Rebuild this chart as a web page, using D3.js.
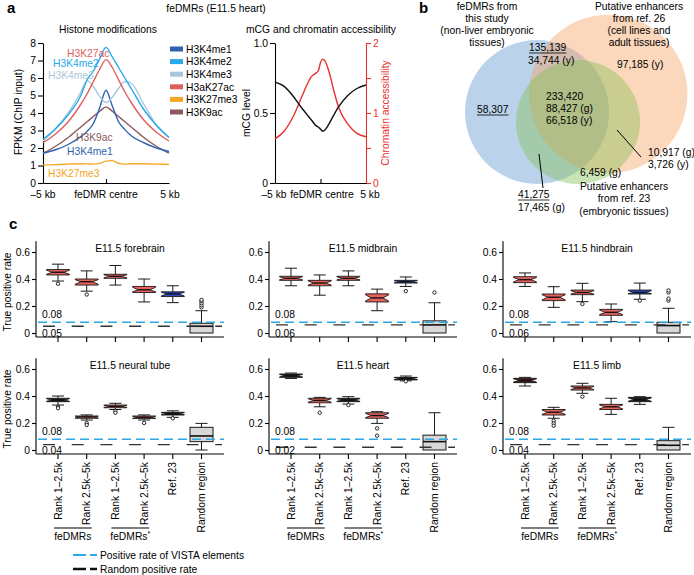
<!DOCTYPE html>
<html>
<head>
<meta charset="utf-8">
<script src="https://cdn.jsdelivr.net/npm/d3@7"></script>
<style>
body{margin:0;background:#fff}
svg{display:block}
</style>
</head>
<body>
<div id="chart"></div>
<script>
// ---- panel a: histone profiles around feDMR centre (kb) ----
const kb=[-5,-4,-3,-2,-1.5,-1,-0.5,0,0.5,1,1.5,2,3,4,5];
const histNames=["H3K4me1","H3K4me2","H3K4me3","H3aK27ac","H3K27me3","H3K9ac"];
const h3k4me1 =[1.70,1.90,2.20,2.65,2.95,3.40,4.30,5.30,4.40,3.50,3.05,2.70,2.30,2.00,1.80];
const h3k4me2 =[2.50,3.10,3.90,5.00,5.90,6.40,7.10,7.75,7.20,6.60,6.00,5.40,4.20,3.30,2.60];
const h3k4me3 =[2.40,3.10,4.00,5.20,5.85,5.50,4.95,4.60,4.90,5.40,5.80,5.70,4.50,3.30,2.60];
const h3ak27ac=[2.30,2.80,3.50,4.50,5.10,5.80,6.50,7.05,6.60,5.90,5.20,4.60,3.60,2.90,2.40];
const h3k27me3=[1.02,1.05,1.08,1.10,1.09,1.08,1.12,1.25,1.28,1.12,1.08,1.10,1.10,1.08,1.06];
const h3k9ac  =[1.70,2.10,2.60,3.20,3.50,3.80,4.10,4.35,4.10,3.80,3.50,3.20,2.60,2.10,1.70];
const histSeries=[h3k4me1,h3k4me2,h3k4me3,h3ak27ac,h3k27me3,h3k9ac];

// ---- panel a: mCG and chromatin accessibility ----
const kbFine=[-5,-4,-3,-2,-1.5,-1,-0.5,-0.25,0,0.25,0.5,1,1.5,2,3,4,5];
const mcgLevel=[0.72,0.69,0.62,0.53,0.49,0.45,0.41,0.40,0.385,0.37,0.38,0.43,0.49,0.545,0.625,0.675,0.70];
const chromAcc=[0.63,0.74,0.95,1.25,1.40,1.52,1.57,1.60,1.72,1.77,1.74,1.56,1.30,1.08,0.84,0.71,0.66];

// ---- panel b: overlap counts ----
const onlyFeDMR="58,307";
const feDMRref26=["135,139","34,744 (y)"];
const onlyRef26="97,185 (y)";
const allThree=["233,420","88,427 (g)","66,518 (y)"];
const ref26ref23=["10,917 (g)","3,726 (y)"];
const onlyRef23="6,459 (g)";
const feDMRref23=["41,275","17,465 (g)"];

// ---- panel c: true positive rate boxes [low whisker, q1, median, q3, high whisker] ----
const categories=["Rank 1–2.5k","Rank 2.5k–5k","Rank 1–2.5k","Rank 2.5k–5k","Ref. 23","Random region"];
const tissues=["E11.5 forebrain","E11.5 midbrain","E11.5 hindbrain","E11.5 neural tube","E11.5 heart","E11.5 limb"];
const vistaRate=0.08;
const randomRate=[0.05,0.06,0.06,0.04,0.02,0.04];
const forebrainBox=[[0.385,0.43,0.45,0.47,0.51],[0.31,0.355,0.38,0.40,0.46],[0.355,0.405,0.42,0.435,0.50],[0.23,0.30,0.32,0.345,0.40],[0.225,0.27,0.29,0.305,0.35],[0,0,0.05,0.072,0.165]];
const midbrainBox=[[0.35,0.39,0.405,0.42,0.48],[0.28,0.35,0.37,0.39,0.43],[0.35,0.39,0.405,0.42,0.46],[0.165,0.23,0.26,0.29,0.325],[0.345,0.37,0.38,0.39,0.415],[0,0,0.06,0.09,0.224]];
const hindbrainBox=[[0.345,0.373,0.395,0.417,0.445],[0.19,0.24,0.265,0.289,0.343],[0.232,0.284,0.30,0.318,0.368],[0.084,0.131,0.153,0.175,0.215],[0.25,0.289,0.30,0.318,0.37],[0,0,0.055,0.079,0.183]];
const neuralTubeBox=[[0.333,0.358,0.37,0.383,0.40],[0.222,0.235,0.245,0.252,0.26],[0.30,0.313,0.323,0.333,0.346],[0.222,0.233,0.243,0.252,0.26],[0.242,0.259,0.268,0.279,0.29],[0,0.062,0.104,0.168,0.197]];
const heartBox=[[0.53,0.538,0.55,0.563,0.57],[0.32,0.35,0.367,0.383,0.39],[0.34,0.358,0.37,0.383,0.395],[0.197,0.235,0.255,0.276,0.284],[0.512,0.519,0.53,0.538,0.548],[0,0,0.062,0.11,0.276]];
const limbBox=[[0.474,0.499,0.515,0.531,0.538],[0.235,0.259,0.28,0.30,0.316],[0.42,0.444,0.46,0.474,0.494],[0.264,0.30,0.32,0.338,0.383],[0.338,0.358,0.373,0.39,0.395],[0,0,0.035,0.069,0.168]];
const forebrainOut=[[0.365],[0.285],[],[],[],[0.19,0.205,0.22,0.235,0.245]];
const midbrainOut=[[],[],[],[],[0.31],[0.30]];
const hindbrainOut=[[],[],[0.215],[],[0.24],[0.24,0.255,0.30,0.315]];
const neuralTubeOut=[[0.32,0.31],[0.20,0.185],[0.29,0.276],[0.20],[0.235],[]];
const heartOut=[[],[0.276],[0.333],[0.16,0.106],[0.509],[]];
const limbOut=[[],[0.217,0.197,0.18],[0.395],[],[],[]];
const boxStats=[forebrainBox,midbrainBox,hindbrainBox,neuralTubeBox,heartBox,limbBox];
const boxOutliers=[forebrainOut,midbrainOut,hindbrainOut,neuralTubeOut,heartOut,limbOut];

// ---- styles ----
const FONT='"Liberation Sans",Arial,Helvetica,sans-serif';
const histColors=["#2f63b0","#27a9ec","#a9c7d8","#dc605e","#f5a623","#8c5a5c"];
const R_="#e8615b",B_="#2b4bc8",K_="#1c1c1c",G_="#d8d8d8";
const boxFills=[
  [R_,R_,R_,R_,B_,G_],[R_,R_,R_,R_,B_,G_],[R_,R_,R_,R_,B_,G_],
  [K_,R_,R_,R_,K_,G_],[K_,R_,K_,R_,K_,G_],["#4a1c1c",R_,R_,R_,K_,G_]
];
const RED="#e8312e";

const svg=d3.select("#chart").append("svg")
  .attr("width",694).attr("height",575)
  .attr("font-family",FONT).attr("font-size",10.3);

function styleAxis(g,col){
  g.attr("font-family",FONT).attr("font-size",10.3);
  g.selectAll("line,path").attr("stroke",col||"#000").attr("stroke-width",1.1);
  g.selectAll("text").attr("fill",col||"#000");
}
function txt(parent,x,y,s,anchor,col){
  return parent.append("text").attr("x",x).attr("y",y).attr("text-anchor",anchor||"start").attr("fill",col||"#000").text(s);
}

// panel letters + header
[["a",7,13],["b",419,13],["c",9,229]].forEach(d=>{
  svg.append("text").attr("x",d[1]).attr("y",d[2]).attr("font-size",15).attr("font-weight","bold").text(d[0]);
});
txt(svg,216,12,"feDMRs (E11.5 heart)","middle");

// ================= panel a, left =================
const xA=d3.scaleLinear().domain([-5,5]).range([43,169]);
const yA=d3.scaleLinear().domain([0,8]).range([183,43]);
const gA=svg.append("g");
txt(gA,108,33,"Histone modifications","middle");
styleAxis(gA.append("g").attr("transform","translate(43,0)")
  .call(d3.axisLeft(yA).ticks(8).tickSize(5).tickPadding(2).tickSizeOuter(0)));
styleAxis(gA.append("g").attr("transform","translate(0,183)")
  .call(d3.axisBottom(xA).tickValues([0]).tickSize(-4).tickFormat("").tickSizeOuter(0)));
txt(gA,43,198,"–5 kb","middle");
txt(gA,106,198,"feDMR centre","middle");
txt(gA,170,198,"5 kb","middle");
gA.append("text").attr("transform","translate(22,112) rotate(-90)").attr("text-anchor","middle").text("FPKM (ChIP input)");

const lineA=d3.line().x((d,i)=>xA(kb[i])).y(d=>yA(d)).curve(d3.curveMonotoneX);
[4,5,0,2,3,1].forEach(k=>{
  gA.append("path").attr("d",lineA(histSeries[k])).attr("fill","none")
    .attr("stroke",histColors[k]).attr("stroke-width",1.4);
});
// in-plot labels
[[3,67,57],[1,53,67],[2,48,79],[5,76,141],[0,67,155],[4,48,177]].forEach(d=>{
  txt(gA,d[1],d[2],d[0]===3?"H3K27ac":histNames[d[0]],"start",histColors[d[0]]);
});
// legend
histNames.forEach((n,i)=>{
  const yy=49+i*12.6;
  gA.append("rect").attr("x",170).attr("y",yy-2.5).attr("width",13).attr("height",5).attr("fill",histColors[i]);
  txt(gA,186,yy+3.7,n);
});

// ================= panel a, right =================
const xB=d3.scaleLinear().domain([-5,5]).range([275,366]);
const yB=d3.scaleLinear().domain([0,1]).range([183,43]);
const yR=d3.scaleLinear().domain([0,2]).range([183,43]);
const gB=svg.append("g");
txt(gB,321,33,"mCG and chromatin accessibility","middle");
styleAxis(gB.append("g").attr("transform","translate(275,0)")
  .call(d3.axisLeft(yB).tickValues([0,0.5,1]).tickSize(5).tickPadding(2).tickSizeOuter(0)
    .tickFormat(d=>d===0?"0":d3.format(".1f")(d))));
styleAxis(gB.append("g").attr("transform","translate(366,0)")
  .call(d3.axisRight(yR).tickValues([0,0.5,1,1.5,2]).tickSize(5).tickPadding(2).tickSizeOuter(0)
    .tickFormat(d=>Number.isInteger(d)?d:"")),RED);
styleAxis(gB.append("g").attr("transform","translate(0,183)")
  .call(d3.axisBottom(xB).tickValues([0]).tickSize(-4).tickFormat("").tickSizeOuter(0)));
txt(gB,274,198,"–5 kb","middle");
txt(gB,322,198,"feDMR centre","middle");
txt(gB,370,198,"5 kb","middle");
gB.append("text").attr("transform","translate(250,113) rotate(-90)").attr("text-anchor","middle").text("mCG level");
gB.append("text").attr("transform","translate(389,113) rotate(-90)").attr("text-anchor","middle").attr("fill",RED).text("Chromatin accessibility");
gB.append("path").attr("d",d3.line().x((d,i)=>xB(kbFine[i])).y(d=>yR(d)).curve(d3.curveMonotoneX)(chromAcc))
  .attr("fill","none").attr("stroke",RED).attr("stroke-width",1.4);
gB.append("path").attr("d",d3.line().x((d,i)=>xB(kbFine[i])).y(d=>yB(d)).curve(d3.curveMonotoneX)(mcgLevel))
  .attr("fill","none").attr("stroke","#111").attr("stroke-width",1.4);

// ================= panel b: Venn =================
// circle geometry in units of the feDMR circle radius
const vennSets=[
  {cx:0,cy:0,r:1,col:"rgb(90,150,205)"},
  {cx:0.99,cy:-0.25,r:1.1,col:"rgb(245,160,95)"},
  {cx:0.569,cy:0.139,r:0.861,col:"rgb(130,190,80)"}
];
const vx=d3.scaleLinear().domain([0,1]).range([537,609]);
const vy=d3.scaleLinear().domain([0,1]).range([112,184]);
const gV=svg.append("g");
gV.selectAll("circle").data(vennSets).join("circle")
  .attr("cx",d=>vx(d.cx)).attr("cy",d=>vy(d.cy)).attr("r",d=>vx(d.r)-vx(0))
  .attr("fill",d=>d.col).attr("fill-opacity",0.42);
["feDMRs from","this study","(non-liver embryonic","tissues)"].forEach((s,i)=>txt(gV,487,10+i*12,s,"middle"));
["Putative enhancers","from ref. 26","(cell lines and","adult tissues)"].forEach((s,i)=>txt(gV,639,10+i*12,s,"middle"));
["Putative enhancers","from ref. 23","(embryonic tissues)"].forEach((s,i)=>txt(gV,624,190+i*12.3,s,"middle"));
function underlined(x,y,s){
  const t=txt(gV,x,y,s);
  const w=t.node().getComputedTextLength();
  gV.append("line").attr("x1",x).attr("x2",x+w).attr("y1",y+2).attr("y2",y+2).attr("stroke","#000").attr("stroke-width",0.8);
}
underlined(529,51,feDMRref26[0]); txt(gV,528,64,feDMRref26[1]);
txt(gV,617,68,onlyRef26);
underlined(477,113,onlyFeDMR);
allThree.forEach((s,i)=>txt(gV,546,100+i*12,s));
ref26ref23.forEach((s,i)=>txt(gV,648,156+i*12,s));
txt(gV,580,176,onlyRef23);
underlined(518,198,feDMRref23[0]); txt(gV,518,211,feDMRref23[1]);
gV.append("line").attr("x1",617).attr("y1",130).attr("x2",641).attr("y2",157).attr("stroke","#000").attr("stroke-width",1);
gV.append("line").attr("x1",539).attr("y1",154).attr("x2",543).attr("y2",188).attr("stroke","#000").attr("stroke-width",1);

// ================= panel c: boxplots =================
const colX0=[36,269,503];
const rowY0=[333,450];
const BW=23,CAP=12;
tissues.forEach((name,ti)=>{
  const col=ti%3,row=Math.floor(ti/3);
  const x0=colX0[col],y0=rowY0[row];
  const g=svg.append("g");
  const x=d3.scaleBand().domain(d3.range(categories.length)).range([x0+7.65,x0+179.85]);
  const cx=i=>x(i)+x.bandwidth()/2;
  const y=d3.scaleLinear().domain([0,0.68]).range([y0,y0-0.68*135]);

  const ya=g.append("g").attr("transform",`translate(${x0},0)`)
    .call(d3.axisLeft(y).tickValues([0,0.2,0.4,0.6]).tickSize(4).tickPadding(2)
      .tickFormat(d=>d===0?"0":d.toFixed(1)));
  ya.select(".domain").remove();
  styleAxis(ya);
  g.append("line").attr("x1",x0).attr("x2",x0).attr("y1",y(0.68)).attr("y2",y0+4).attr("stroke","#000").attr("stroke-width",1.1);

  const xa=g.append("g").attr("transform",`translate(0,${y0+4})`)
    .call(d3.axisBottom(x).tickSize(5).tickFormat(row?(i=>categories[i]):""));
  xa.select(".domain").remove();
  styleAxis(xa);
  if(row){
    xa.selectAll(".tick text").attr("transform","rotate(-90)").attr("x",-8).attr("y",0)
      .attr("dy","0.35em").attr("text-anchor","end");
  }
  g.append("line").attr("x1",x0).attr("x2",x0+188).attr("y1",y0+4).attr("y2",y0+4).attr("stroke","#000").attr("stroke-width",1.1);

  txt(g,x0+94,y(0.6),name,"middle");

  boxStats[ti].forEach((s,i)=>{
    const [lo,q1,md,q3,hi]=s;
    const c=cx(i),l=c-BW/2,r=c+BW/2;
    const stroke="#1a1a1a";
    g.append("line").attr("x1",c).attr("x2",c).attr("y1",y(hi)).attr("y2",y(q3)).attr("stroke",stroke);
    g.append("line").attr("x1",c-CAP/2).attr("x2",c+CAP/2).attr("y1",y(hi)).attr("y2",y(hi)).attr("stroke",stroke);
    if(lo<q1){
      g.append("line").attr("x1",c).attr("x2",c).attr("y1",y(q1)).attr("y2",y(lo)).attr("stroke",stroke);
      g.append("line").attr("x1",c-CAP/2).attr("x2",c+CAP/2).attr("y1",y(lo)).attr("y2",y(lo)).attr("stroke",stroke);
    }
    if(i<5){
      const top=y(q3),bot=y(q1),m=y(md);
      const nHi=m-(m-top)*0.75,nLo=m+(bot-m)*0.75,nw=BW*0.25;
      const pts=[[l,top],[r,top],[r,nHi],[r-nw,m],[r,nLo],[r,bot],[l,bot],[l,nLo],[l+nw,m],[l,nHi]];
      g.append("path").attr("d",d3.line()(pts)+"Z").attr("fill",boxFills[ti][i]).attr("stroke",stroke).attr("stroke-width",0.9);
      g.append("line").attr("x1",l+nw).attr("x2",r-nw).attr("y1",m).attr("y2",m).attr("stroke","#111").attr("stroke-width",1.4);
    }else{
      g.append("rect").attr("x",l).attr("y",y(q3)).attr("width",BW).attr("height",y(q1)-y(q3))
        .attr("fill",boxFills[ti][i]).attr("stroke",stroke).attr("stroke-width",1);
      g.append("line").attr("x1",l).attr("x2",r).attr("y1",y(md)).attr("y2",y(md)).attr("stroke","#111").attr("stroke-width",1.6);
    }
    boxOutliers[ti][i].forEach(v=>{
      g.append("circle").attr("cx",c).attr("cy",y(v)).attr("r",1.7).attr("fill","#fff").attr("stroke","#111").attr("stroke-width",0.9);
    });
  });

  // reference lines
  g.append("line").attr("x1",x0+2).attr("x2",x0+188).attr("y1",y(vistaRate)).attr("y2",y(vistaRate))
    .attr("stroke","#2aa8e8").attr("stroke-width",1.4).attr("stroke-dasharray","9,5");
  g.append("line").attr("x1",x0+7).attr("x2",x0+186).attr("y1",y(randomRate[ti])).attr("y2",y(randomRate[ti]))
    .attr("stroke","#333").attr("stroke-width",1.4).attr("stroke-dasharray","12,16.7");
  txt(g,x0+6,y(vistaRate)-4,d3.format(".2f")(vistaRate));
  txt(g,x0+6,y0+3.5,d3.format(".2f")(randomRate[ti]));

  if(col===0){
    g.append("text").attr("transform",`translate(11,${y0-41}) rotate(-90)`).attr("text-anchor","middle").text("True positive rate");
  }
  if(row){
    [[0,1,"feDMRs"],[2,3,"feDMRs"]].forEach((d,k)=>{
      const a=cx(d[0])-4,b=cx(d[1])+5;
      g.append("line").attr("x1",a).attr("x2",b).attr("y1",528).attr("y2",528).attr("stroke","#000").attr("stroke-width",1.1);
      const t=g.append("text").attr("x",(a+b)/2).attr("y",540).attr("text-anchor","middle").text(d[2]);
      if(k===1)t.append("tspan").attr("font-size",7).attr("dy",-4).text("*");
    });
  }
});

// legend
const gL=svg.append("g");
gL.append("line").attr("x1",73).attr("x2",97).attr("y1",555).attr("y2",555).attr("stroke","#2aa8e8").attr("stroke-width",2).attr("stroke-dasharray","13,4");
gL.append("line").attr("x1",73).attr("x2",97).attr("y1",569).attr("y2",569).attr("stroke","#111").attr("stroke-width",2.4).attr("stroke-dasharray","13,4");
txt(gL,100,559,"Positive rate of VISTA elements");
txt(gL,100,573,"Random positive rate");
</script>
</body>
</html>
